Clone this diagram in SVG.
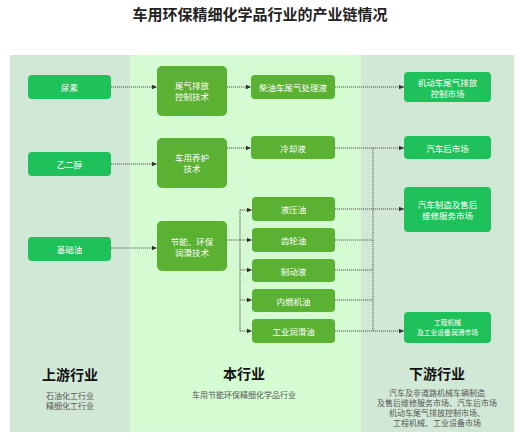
<svg xmlns="http://www.w3.org/2000/svg" width="520" height="438" viewBox="0 0 520 438">
<defs>
<marker id="ah" markerWidth="6" markerHeight="6" refX="5" refY="3" orient="auto" markerUnits="userSpaceOnUse">
<path d="M0,0.8 L5,3 L0,5.2 Z" fill="#333"/>
</marker>
<style>
text{font-family:"Noto Sans CJK SC","Noto Sans",sans-serif;}
.src rect,.mkt rect{fill:#1fc25a;}
.tech rect,.prod rect{fill:#5bb132;}
.nt{fill:#fff;font-size:8.5px;text-anchor:middle;dominant-baseline:central;}
.small{font-size:6.8px;}
.hd{fill:#111;font-size:14px;font-weight:bold;text-anchor:middle;dominant-baseline:central;}
.ds{fill:#555;font-size:8px;text-anchor:middle;dominant-baseline:central;}
.cn{fill:none;stroke:#555;stroke-width:1;stroke-dasharray:1.2,0.8;}
</style>
</defs>
<rect width="520" height="438" fill="#fff"/>
<text x="260" y="13" font-size="15" font-weight="bold" text-anchor="middle" dominant-baseline="central" fill="#222">车用环保精细化学品行业的产业链情况</text>
<g id="panels">
<rect x="10" y="55" width="120" height="377" fill="#d2e8d6"/>
<rect x="130" y="55" width="231" height="377" fill="#d5fbd3"/>
<rect x="361" y="55" width="153" height="377" fill="#d2e8d6"/>
</g>
<g id="n-niaosu" class="src"><rect x="28" y="75" width="83" height="24" rx="4"/><text class="nt" x="69.5" y="87">尿素</text></g>
<g id="n-yierchun" class="src"><rect x="28" y="152" width="83" height="24" rx="4"/><text class="nt" x="69.5" y="164">乙二醇</text></g>
<g id="n-jichuyou" class="src"><rect x="28" y="237" width="83" height="24" rx="4"/><text class="nt" x="69.5" y="249">基础油</text></g>
<g id="t-weiqi" class="tech"><rect x="157" y="66" width="70" height="50" rx="5"/><text class="nt" x="192" y="85">尾气排放</text><text class="nt" x="192" y="96">控制技术</text></g>
<g id="t-yanghu" class="tech"><rect x="157" y="138" width="70" height="50" rx="5"/><text class="nt" x="192" y="157">车用养护</text><text class="nt" x="192" y="168">技术</text></g>
<g id="t-runhua" class="tech"><rect x="157" y="221" width="70" height="50" rx="5"/><text class="nt" x="192" y="241">节能、环保</text><text class="nt" x="192" y="252">润滑技术</text></g>
<g id="p-chaiyou" class="prod"><rect x="251" y="75" width="84" height="24" rx="4"/><text class="nt" x="293" y="87">柴油车尾气处理液</text></g>
<g id="p-lengque" class="prod"><rect x="251" y="136" width="84" height="23" rx="4"/><text class="nt" x="293" y="147.5">冷却液</text></g>
<g id="p-yeya" class="prod"><rect x="252" y="197" width="83" height="24" rx="4"/><text class="nt" x="293.5" y="209">液压油</text></g>
<g id="p-chilun" class="prod"><rect x="252" y="228" width="83" height="24" rx="4"/><text class="nt" x="293.5" y="240">齿轮油</text></g>
<g id="p-zhidong" class="prod"><rect x="252" y="259" width="83" height="23" rx="4"/><text class="nt" x="293.5" y="270.5">制动液</text></g>
<g id="p-neiran" class="prod"><rect x="252" y="289" width="83" height="23" rx="4"/><text class="nt" x="293.5" y="300.5">内燃机油</text></g>
<g id="p-gongye" class="prod"><rect x="252" y="319" width="83" height="24" rx="4"/><text class="nt" x="293.5" y="331">工业润滑油</text></g>
<g id="m-jidongche" class="mkt"><rect x="404" y="72" width="87" height="30" rx="4"/><text class="nt" x="447.5" y="82">机动车尾气排放</text><text class="nt" x="447.5" y="93">控制市场</text></g>
<g id="m-houshichang" class="mkt"><rect x="404" y="136" width="87" height="23" rx="4"/><text class="nt" x="447.5" y="147.5">汽车后市场</text></g>
<g id="m-zhizao" class="mkt"><rect x="404" y="187" width="87" height="45" rx="4"/><text class="nt" x="447.5" y="204">汽车制造及售后</text><text class="nt" x="447.5" y="215">维修服务市场</text></g>
<g id="m-gongcheng" class="mkt"><rect x="404" y="312" width="87" height="31" rx="4"/><text class="nt small" x="447.5" y="322">工程机械</text><text class="nt small" x="447.5" y="332">及工业设备润滑市场</text></g>
<g id="connectors">
<path class="cn" d="M111,87 H157" marker-end="url(#ah)"/>
<path class="cn" d="M111,164 H157" marker-end="url(#ah)"/>
<path class="cn" d="M111,248 H157" marker-end="url(#ah)"/>
<path class="cn" d="M227,87 H251" marker-end="url(#ah)"/>
<path class="cn" d="M227,148 H251" marker-end="url(#ah)"/>
<path class="cn" d="M227,240 H240"/>
<path class="cn" d="M240,210 V331"/>
<path class="cn" d="M240,210 H252" marker-end="url(#ah)"/>
<path class="cn" d="M240,240 H252" marker-end="url(#ah)"/>
<path class="cn" d="M240,270 H252" marker-end="url(#ah)"/>
<path class="cn" d="M240,300 H252" marker-end="url(#ah)"/>
<path class="cn" d="M240,331 H252" marker-end="url(#ah)"/>
<path class="cn" d="M335,87 H404" marker-end="url(#ah)"/>
<path class="cn" d="M335,148 H404" marker-end="url(#ah)"/>
<path class="cn" d="M373,148 V331"/>
<path class="cn" d="M335,209 H404" marker-end="url(#ah)"/>
<path class="cn" d="M335,240 H373"/>
<path class="cn" d="M335,270 H373"/>
<path class="cn" d="M335,300 H373"/>
<path class="cn" d="M335,331 H404" marker-end="url(#ah)"/>
</g>
<g id="labels">
<text class="hd" x="70" y="374">上游行业</text>
<text class="ds" x="70" y="395">石油化工行业</text>
<text class="ds" x="70" y="405">精细化工行业</text>
<text class="hd" x="244" y="373">本行业</text>
<text class="ds" x="244" y="394">车用节能环保精细化学品行业</text>
<text class="hd" x="437" y="373">下游行业</text>
<text class="ds" x="437" y="392">汽车及非道路机械车辆制造</text>
<text class="ds" x="437" y="402">及售后维修服务市场、汽车后市场</text>
<text class="ds" x="437" y="412">机动车尾气排放控制市场、</text>
<text class="ds" x="437" y="422">工程机械、工业设备市场</text>
</g>
</svg>
